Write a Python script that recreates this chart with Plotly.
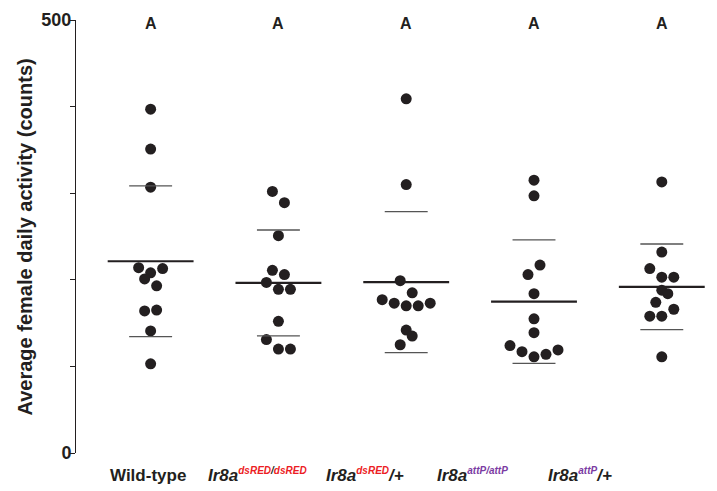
import plotly.graph_objects as go
import numpy as np

# ---- data ----
groups = ["Wild-type", "Ir8a dsRED/dsRED", "Ir8a dsRED/+", "Ir8a attP/attP", "Ir8a attP/+"]
wild_type = [397, 351, 307, 214, 213, 208, 201, 193, 164, 165, 141, 103]
dsred_dsred = [302, 289, 251, 211, 206, 197, 189, 189, 152, 131, 120, 120]
dsred_plus = [409, 310, 199, 185, 177, 173, 170, 170, 173, 142, 135, 125]
attp_attp = [315, 297, 217, 206, 184, 155, 139, 124, 117, 111, 114, 119]
attp_plus = [313, 232, 213, 203, 203, 188, 184, 174, 166, 158, 158, 111]
letters = ["A", "A", "A", "A", "A"]
y_label_vals = [0, 500]
y_label_text = ["0", "500"]
y_minor_step = 100

# ---- layout / style (beeswarm offsets in half-dot steps) ----
swarm_offsets = [
    [0, 0, 0, -2, 2, 0, -1, 1, -1, 1, 0, 0],
    [-1, 1, 0, -1, 1, -2, 0, 2, 0, -2, 0, 2],
    [0, 0, -1, 1, -4, -2, 0, 2, 4, 0, 1, -1],
    [0, 0, 1, -1, 0, 0, 0, -4, -2, 0, 2, 4],
    [0, 0, -2, 0, 2, 0, 1, -1, 2, -2, 0, 0],
]
STEP = 6 / 127.8
series = [wild_type, dsred_dsred, dsred_plus, attp_attp, attp_plus]

RED = "#ec1c24"
PURPLE = "#7b3ba3"
SUP = "font-size:10px"
label_html = [
    "<b>Wild-type</b>",
    f"<b><i>Ir8a<sup><span style='{SUP};color:{RED}'>dsRED</span><span style='{SUP}'>/</span><span style='{SUP};color:{RED}'>dsRED</span></sup></i></b>",
    f"<b><i>Ir8a<sup><span style='{SUP};color:{RED}'>dsRED</span></sup>/+</i></b>",
    f"<b><i>Ir8a<sup><span style='{SUP};color:{PURPLE}'>attP/attP</span></sup></i></b>",
    f"<b><i>Ir8a<sup><span style='{SUP};color:{PURPLE}'>attP</span></sup>/+</i></b>",
]
label_px = [147.5, 257, 365, 472, 580]

L, T, W, H = 76, 20, 641, 433
FONT = "Arial, Liberation Sans, sans-serif"

fig = go.Figure()

for i, vals in enumerate(series):
    xs = [i + o * STEP for o in swarm_offsets[i]]
    fig.add_trace(go.Scatter(x=xs, y=vals, mode="markers",
                             marker=dict(size=11, color="#231f20"),
                             showlegend=False, hoverinfo="y"))
    m = float(np.mean(vals))
    sd = float(np.std(vals, ddof=1))
    fig.add_trace(go.Scatter(x=[i - 0.336, i + 0.336], y=[m, m], mode="lines",
                             line=dict(color="#231f20", width=2.2),
                             showlegend=False, hoverinfo="skip"))
    fig.add_trace(go.Scatter(x=[i - 0.168, i + 0.168, None, i - 0.168, i + 0.168],
                             y=[m + sd, m + sd, None, m - sd, m - sd], mode="lines",
                             line=dict(color="#555555", width=1.3),
                             showlegend=False, hoverinfo="skip"))

annotations = []
for i, txt in enumerate(letters):
    annotations.append(dict(x=i, y=0.993, xref="x", yref="paper", text=f"<b>{txt}</b>",
                            showarrow=False, font=dict(size=16, color="#231f20", family=FONT),
                            xanchor="center", yanchor="middle"))
for px, txt in zip(label_px, label_html):
    annotations.append(dict(x=(px - L) / W, y=(453 - 475) / H, xref="paper", yref="paper",
                            text=txt, showarrow=False,
                            font=dict(size=17, color="#231f20", family=FONT),
                            xanchor="center", yanchor="middle"))
annotations.append(dict(x=(24 - L) / W, y=(453 - 237.5) / H, xref="paper", yref="paper",
                        text="<b>Average female daily activity (counts)</b>", textangle=-90,
                        showarrow=False,
                        font=dict(size=20, color="#231f20", family=FONT),
                        xanchor="center", yanchor="middle"))

fig.update_layout(
    width=717, height=491,
    margin=dict(l=L, r=717 - L - W, t=T, b=491 - T - H, pad=0),
    paper_bgcolor="white", plot_bgcolor="white",
    xaxis=dict(range=[-0.584, 4.432], showgrid=False, zeroline=False,
               showticklabels=False, ticks="", showline=False),
    yaxis=dict(range=[0, 500], showgrid=False, zeroline=False,
               showline=True, linecolor="#231f20", linewidth=1,
               ticks="", tickvals=y_label_vals,
               ticktext=[f"<b>{t}</b>" for t in y_label_text],
               tickfont=dict(size=18, color="#231f20", family=FONT),
               minor=dict(ticks="outside", ticklen=5, tickcolor="#231f20", tickwidth=1,
                          tick0=0, dtick=y_minor_step, showgrid=False)),
    annotations=annotations,
)

fig.write_html("out.html")
